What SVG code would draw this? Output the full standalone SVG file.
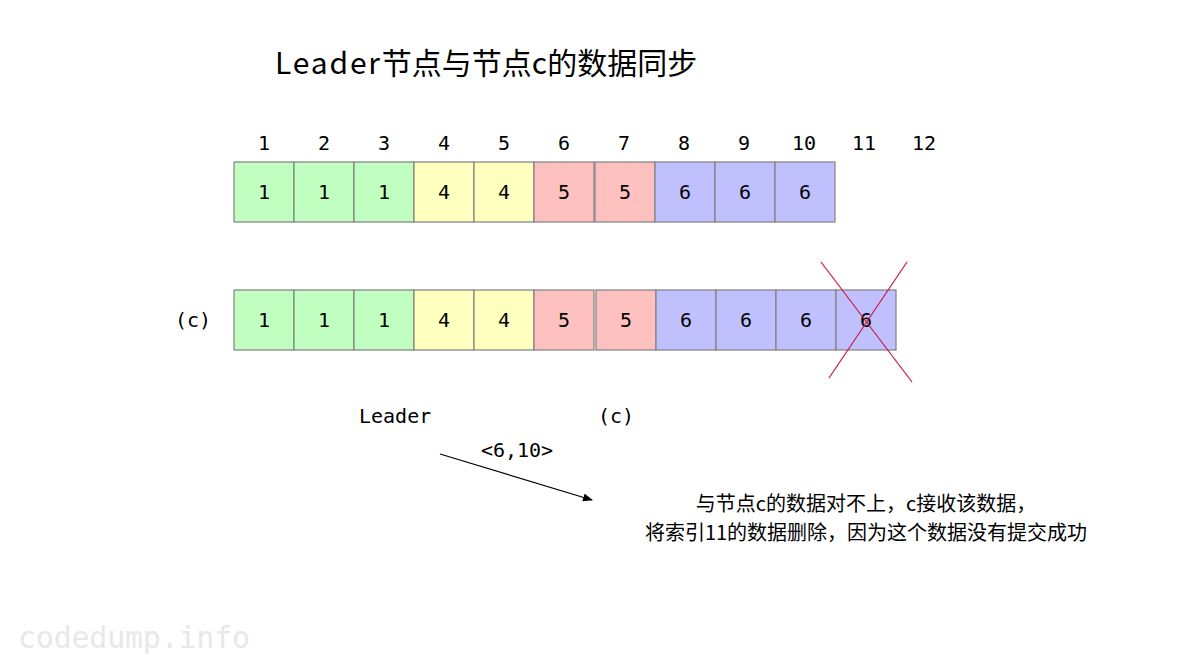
<svg xmlns="http://www.w3.org/2000/svg" width="1200" height="655" viewBox="0 0 1200 655">
<style>
.mono{font-family:"DejaVu Sans Mono","Liberation Mono",monospace;fill:#000}
.idx{font-size:20px;text-anchor:middle}
.val{font-size:20px;text-anchor:middle}
.lbl{font-size:20px}
.cjk{font-family:"Noto Sans CJK SC","Noto Sans",sans-serif;fill:#000}
.g{fill:#c0ffc0;stroke:#808080;stroke-width:1.2}
.y{fill:#ffffc0;stroke:#808080;stroke-width:1.2}
.r{fill:#ffc0c0;stroke:#808080;stroke-width:1.2}
.b{fill:#c0c0ff;stroke:#808080;stroke-width:1.2}
</style>
<defs>
<marker id="ah" markerWidth="10" markerHeight="8" refX="9" refY="4" orient="auto" markerUnits="userSpaceOnUse">
<path d="M0,0 L10,4 L0,8 Z" fill="#000"/>
</marker>
</defs>
<rect width="1200" height="655" fill="#fff"/>
<text x="275" y="74" class="cjk" font-size="30"><tspan textLength="105" lengthAdjust="spacing">Leader</tspan>节点与节点c的数据同步</text>
<g id="indices" class="mono idx">
<text x="264" y="150">1</text><text x="324" y="150">2</text><text x="384" y="150">3</text><text x="444" y="150">4</text><text x="504" y="150">5</text><text x="564" y="150">6</text><text x="624" y="150">7</text><text x="684" y="150">8</text><text x="744" y="150">9</text><text x="804" y="150">10</text><text x="864" y="150">11</text><text x="924" y="150">12</text>
</g>
<g id="leader-log">
<rect class="g" x="234" y="162" width="60" height="60"/><rect class="g" x="294" y="162" width="60" height="60"/><rect class="g" x="354" y="162" width="60" height="60"/>
<rect class="y" x="414" y="162" width="60" height="60"/><rect class="y" x="474" y="162" width="60" height="60"/>
<rect class="r" x="534" y="162" width="60" height="60"/><rect class="r" x="595" y="162" width="60" height="60"/>
<rect class="b" x="655" y="162" width="60" height="60"/><rect class="b" x="715" y="162" width="60" height="60"/><rect class="b" x="775" y="162" width="60" height="60"/>
<g class="mono val">
<text x="264" y="199">1</text><text x="324" y="199">1</text><text x="384" y="199">1</text><text x="444" y="199">4</text><text x="504" y="199">4</text><text x="564" y="199">5</text><text x="625" y="199">5</text><text x="685" y="199">6</text><text x="745" y="199">6</text><text x="805" y="199">6</text>
</g>
</g>
<g id="c-log">
<text x="175" y="327" class="mono lbl">(c)</text>
<rect class="g" x="234" y="290" width="60" height="60"/><rect class="g" x="294" y="290" width="60" height="60"/><rect class="g" x="354" y="290" width="60" height="60"/>
<rect class="y" x="414" y="290" width="60" height="60"/><rect class="y" x="474" y="290" width="60" height="60"/>
<rect class="r" x="534" y="290" width="60" height="60"/><rect class="r" x="596" y="290" width="60" height="60"/>
<rect class="b" x="656" y="290" width="60" height="60"/><rect class="b" x="716" y="290" width="60" height="60"/><rect class="b" x="776" y="290" width="60" height="60"/><rect class="b" x="836" y="290" width="60" height="60"/>
<g class="mono val">
<text x="264" y="327">1</text><text x="324" y="327">1</text><text x="384" y="327">1</text><text x="444" y="327">4</text><text x="504" y="327">4</text><text x="564" y="327">5</text><text x="626" y="327">5</text><text x="686" y="327">6</text><text x="746" y="327">6</text><text x="806" y="327">6</text><text x="866" y="327">6</text>
</g>
</g>
<g id="cross" stroke="#c8183c" stroke-width="1.2">
<line x1="821" y1="262" x2="912" y2="382"/>
<line x1="907" y1="262" x2="829" y2="378"/>
</g>
<g id="leader-label"><text x="359" y="423" class="mono lbl">Leader</text></g>
<g id="c-label"><text x="598" y="423" class="mono lbl">(c)</text></g>
<g id="connectors">
<line x1="440" y1="454" x2="592" y2="500" stroke="#000" stroke-width="1.2" marker-end="url(#ah)"/>
<text x="517" y="457" class="mono lbl" text-anchor="middle">&lt;6,10&gt;</text>
</g>
<g id="note" class="cjk" font-size="20" text-anchor="middle">
<text x="866" y="511">与节点c的数据对不上，c接收该数据，</text>
<text x="866" y="540">将索引11的数据删除，因为这个数据没有提交成功</text>
</g>
<text x="18" y="648" font-family="DejaVu Sans Mono,monospace" font-size="30" fill="#e8e8e8" textLength="232">codedump.info</text>
</svg>
